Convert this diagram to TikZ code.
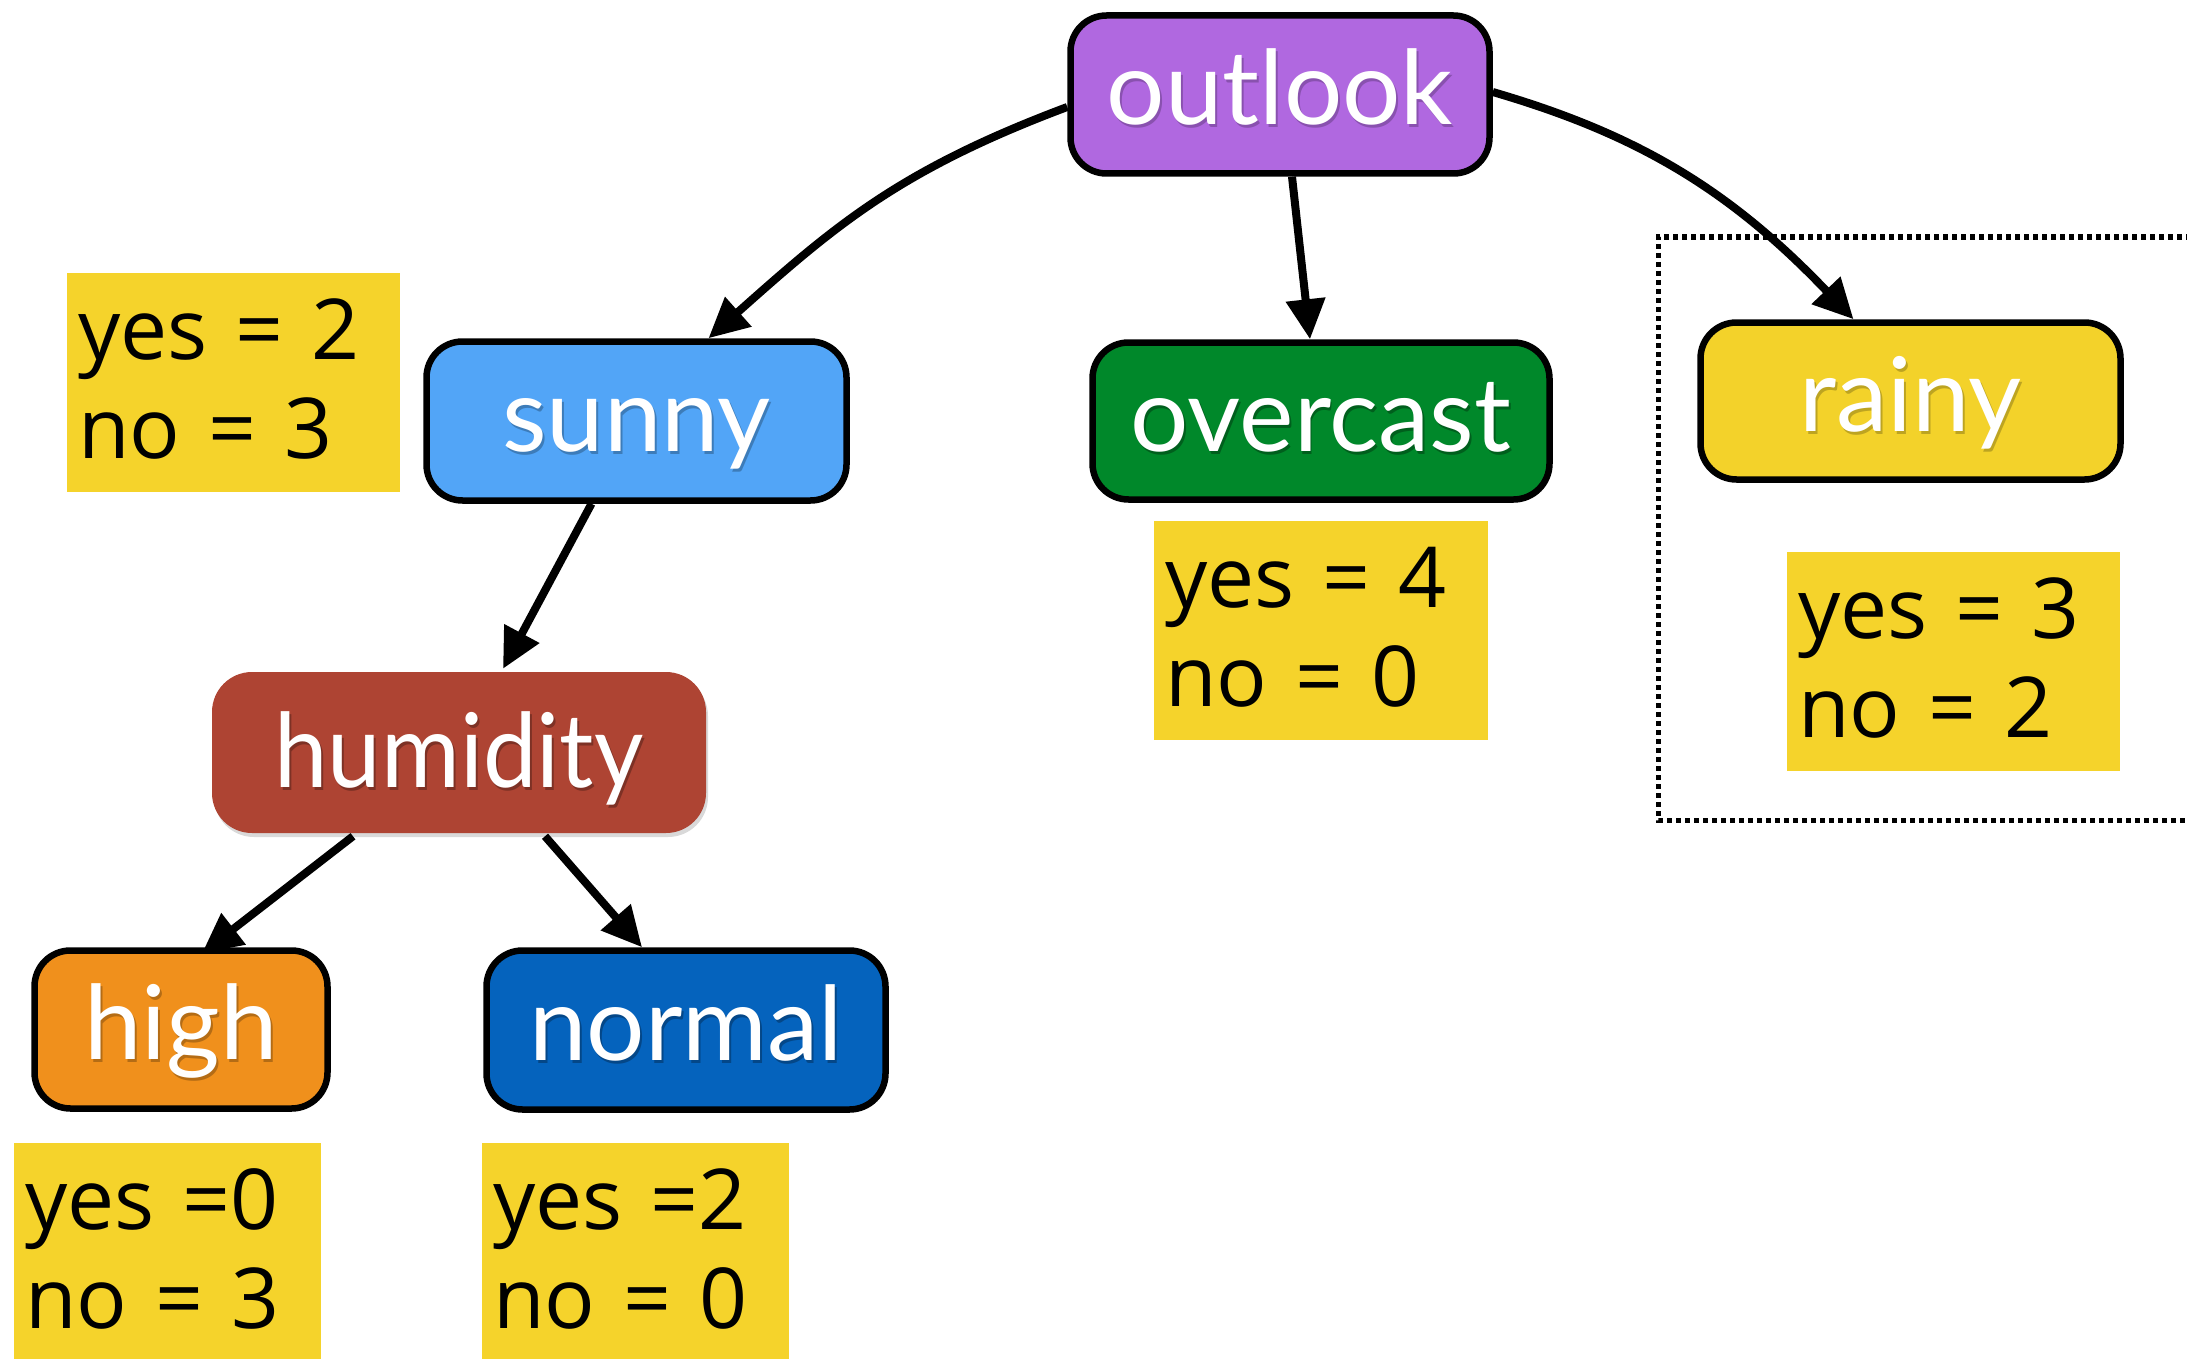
\documentclass[tikz,border=0pt]{standalone}
\usepackage{fontspec}
\usepackage{graphicx}
\usetikzlibrary{arrows.meta,calc,shadows}
\newfontfamily\labelfont{Lato}
\newfontfamily\countfont{Open Sans}
\definecolor{cpurple}{RGB}{176,104,224}
\definecolor{csky}{RGB}{82,165,247}
\definecolor{cgreen}{RGB}{0,136,42}
\definecolor{crain}{RGB}{243,210,42}
\definecolor{cbrick}{RGB}{174,68,51}
\definecolor{corange}{RGB}{240,144,28}
\definecolor{cnavy}{RGB}{5,99,189}
\definecolor{cyellow}{RGB}{245,211,43}
% white label with a faint darker copy underneath
\newcommand\shd[2]{\makebox[0pt][l]{\kern2pt\raisebox{-3pt}{\textcolor{#1}{#2}}}#2}
\begin{document}
\begin{tikzpicture}[x=1pt,y=-1pt,
  choice/.style={draw=black, line width=6.5pt, rounded corners=36pt, text=white,
    font=\labelfont\fontsize{103}{110}\selectfont, inner sep=0pt,
    text height=75pt, text depth=15pt},
  tally/.style={fill=cyellow, anchor=north west, inner xsep=11pt, inner ysep=0pt,
    align=left, text width=#1, font=\countfont\fontsize{84}{99}\selectfont},
  link/.style={line width=8pt, -{Triangle[length=40pt,width=38pt]}}]

\useasboundingbox (0,0) rectangle (2187,1359);

% frame around the rainy branch (runs off the right edge)
\draw[line width=5pt, dash pattern=on 5pt off 4pt]
  (2200,237) -- (1658,237) -- (1658,820) -- (2200,820);

% decision nodes
\node[choice, fill=cpurple, minimum width=419pt, minimum height=158pt] (outlook) at (1280,94.5) {\shd{cpurple!78!black}{outlook}};
\node[choice, fill=csky, minimum width=420pt, minimum height=159pt] (sunny) at (636.5,421) {\shd{csky!75!black}{sunny}};
\node[choice, fill=cgreen, minimum width=457pt, minimum height=157pt] (overcast) at (1321,421) {\shd{cgreen!70!black}{overcast}};
\node[choice, fill=crain, minimum width=420pt, minimum height=157pt] (rainy) at (1910.5,401) {\shd{crain!78!black}{rainy}};
\node[choice, draw=none, fill=cbrick, rounded corners=40pt, minimum width=494pt, minimum height=161pt, text depth=6pt,
  drop shadow={shadow xshift=2pt, shadow yshift=-4pt, opacity=0.3}] (humidity) at (459,752.5) {\scalebox{0.93}[1]{\shd{cbrick!72!black}{humidity}}};
\node[choice, fill=corange, minimum width=293pt, minimum height=158pt] (high) at (181,1029.5) {\shd{corange!75!black}{high}};
\node[choice, fill=cnavy, minimum width=399pt, minimum height=159pt] (normal) at (686,1030) {\shd{cnavy!72!black}{normal}};

% class counts
\node[tally=311pt] (tsunny) at (67,273) {\rule{0pt}{86pt}yes = 2\\no = 3\rule[-34pt]{0pt}{34pt}};
\node[tally=312pt] (tovercast) at (1154,521) {\rule{0pt}{86pt}yes = 4\\no = 0\rule[-34pt]{0pt}{34pt}};
\node[tally=311pt] (trainy) at (1787,552) {\rule{0pt}{86pt}yes = 3\\no = 2\rule[-34pt]{0pt}{34pt}};
\node[tally=285pt] (thigh) at (14,1143) {\rule{0pt}{86pt}yes =0\\no = 3\rule[-34pt]{0pt}{34pt}};
\node[tally=285pt] (tnormal) at (482,1143) {\rule{0pt}{86pt}yes =2\\no = 0\rule[-34pt]{0pt}{34pt}};

% branches
\draw[link] ($(outlook.west)+(0,12.5)$) .. controls +(-168,63) and +(127,-113) .. ($(sunny.north)+(72,0)$);
\draw[link] ($(outlook.south)+(12,0)$) -- ($(overcast.north)+(-11,0)$);
\draw[link] ($(outlook.east)+(0,-2.5)$) .. controls +(144,42) and +(-124,-130) .. ($(rainy.north)+(-57,0)$);
\draw[link] ($(sunny.south)+(-45,0)$) -- ($(humidity.north)+(44,0)$);
\draw[link] ($(humidity.south)+(-106,0)$) -- ($(high.north)+(21,6)$);
\draw[link] ($(humidity.south)+(86,0)$) -- ($(normal.north)+(-44,0)$);
\end{tikzpicture}
\end{document}
